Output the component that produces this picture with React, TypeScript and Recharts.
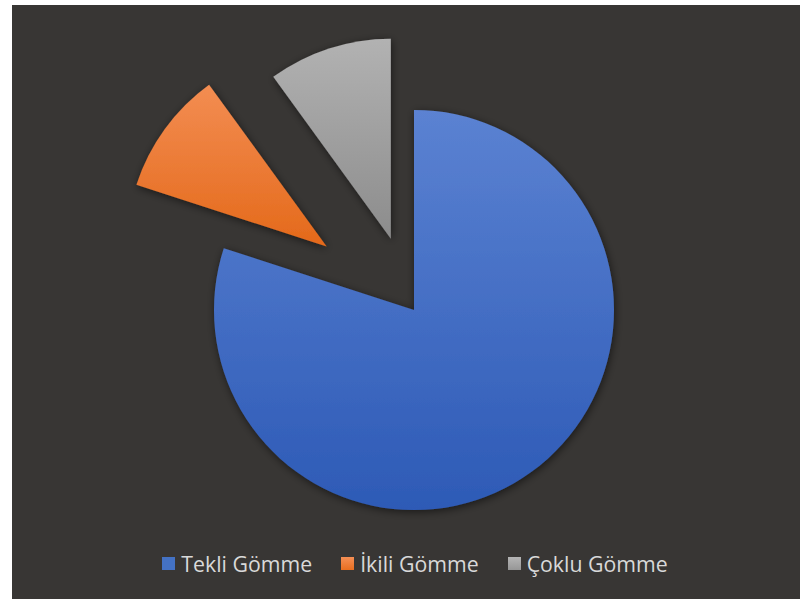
import React from 'react'
import { PieChart, Pie, Sector, Legend } from 'recharts'

const categories = ['Tekli Gömme', 'İkili Gömme', 'Çoklu Gömme']
const values = [80, 10, 10]

// styling, kept apart from the data
const gradients = [
  { id: 'gBlue', top: '#5b82d2', bottom: '#2d5ab6', swatch: '#4472c4' },
  { id: 'gOrange', top: '#f38d52', bottom: '#e4691a', swatch: 'linear-gradient(#f58f55, #e86e1f)' },
  { id: 'gGray', top: '#b2b2b2', bottom: '#8c8c8c', swatch: 'linear-gradient(#b5b5b5, #969696)' },
]
const explode = [0, 108, 75]

const data = categories.map((name, i) => ({ name, value: values[i], fill: `url(#${gradients[i].id})` }))

function ExplodedSector(props: any) {
  const { cx, cy, midAngle, index } = props
  const d = explode[index] || 0
  const rad = (midAngle * Math.PI) / 180
  return (
    <Sector
      {...props}
      cx={cx + d * Math.cos(rad)}
      cy={cy - d * Math.sin(rad)}
      stroke="none"
      filter="url(#shadow)"
    />
  )
}

function LegendContent() {
  return (
    <div style={{ display: 'flex', justifyContent: 'center', paddingLeft: 18, fontFamily: '"Open Sans", sans-serif', fontSize: 21.3, color: '#d9d9d9' }}>
      {categories.map((name, i) => (
        <div key={name} style={{ display: 'flex', alignItems: 'center', marginRight: i < categories.length - 1 ? 29 : 0 }}>
          <span style={{ display: 'inline-block', width: 13, height: 13, background: gradients[i].swatch, marginRight: 6 }} />
          <span>{name}</span>
        </div>
      ))}
    </div>
  )
}

export default function App() {
  return (
    <div style={{ position: 'absolute', left: 12, top: 5, width: 788, height: 594, background: '#383634' }}>
      <PieChart width={788} height={594} margin={{ top: 0, right: 0, bottom: 0, left: 0 }}>
        <defs>
          {gradients.map(g => (
            <linearGradient key={g.id} id={g.id} x1="0" y1="0" x2="0" y2="1">
              <stop offset="0%" stopColor={g.top} />
              <stop offset="100%" stopColor={g.bottom} />
            </linearGradient>
          ))}
          <filter id="shadow" x="-20%" y="-20%" width="140%" height="140%">
            <feDropShadow dx="1" dy="2" stdDeviation="4" floodColor="#000" floodOpacity="0.55" />
          </filter>
        </defs>
        <Pie
          data={data}
          dataKey="value"
          nameKey="name"
          cx={402}
          cy={305}
          outerRadius={200}
          startAngle={90}
          endAngle={-270}
          stroke="none"
          shape={ExplodedSector}
          activeShape={ExplodedSector}
          inactiveShape={ExplodedSector}
          isAnimationActive={false}
        />
        <Legend
          content={<LegendContent />}
          wrapperStyle={{ left: 0, top: 544, width: 788 }}
        />
      </PieChart>
    </div>
  )
}
